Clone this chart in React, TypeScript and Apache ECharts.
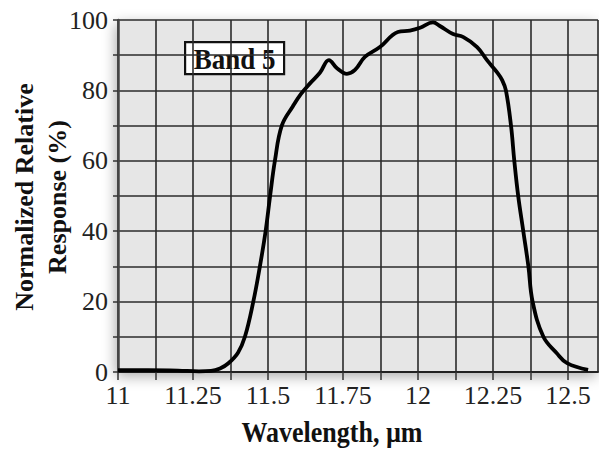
import React, { useEffect, useRef } from "react";
import * as echarts from "echarts";

// Band 5 spectral response curve: wavelength (µm) vs normalized response (%)
const wavelength = [
  11.0, 11.1, 11.2, 11.27, 11.31, 11.34, 11.368, 11.4, 11.423, 11.451, 11.473, 11.492,
  11.507, 11.523, 11.546, 11.583, 11.61, 11.64, 11.673, 11.703, 11.73, 11.763, 11.79, 11.823,
  11.873, 11.933, 11.973, 12.007, 12.05, 12.073, 12.117, 12.15, 12.197, 12.23, 12.265,
  12.28, 12.293, 12.31, 12.321, 12.334, 12.351, 12.368, 12.382, 12.418, 12.462, 12.497,
  12.567,
];
const response = [
  0.5, 0.5, 0.4, 0.2, 0.3, 1.0, 2.5, 5.5, 10, 20, 30, 40,
  50, 60, 70, 75.5, 79, 82, 85, 88.6, 86.3, 84.7, 85.8, 89.5,
  92.3, 96.6, 97, 97.8, 99.3, 98.3, 96, 95.2, 92.3, 88.6, 85,
  83, 80, 70, 60, 50, 40, 30, 20, 10, 5.4, 2.5,
  0.6,
];
const xTickLabels = ["11", "11.25", "11.5", "11.75", "12", "12.25", "12.5"];
const yTickLabels = ["0", "20", "40", "60", "80", "100"];
const bandLabel = "Band 5";
const xTitle = "Wavelength, \u00b5m";
const yTitle = "Normalized Relative\nResponse (%)";

const SERIF = "'Liberation Serif', 'DejaVu Serif', serif";

export default function App() {
  const ref = useRef<HTMLDivElement>(null);

  useEffect(() => {
    if (!ref.current) return;
    const chart = echarts.init(ref.current, null, { renderer: "svg" });
    const points = wavelength.map((w, i) => [w, response[i]]);
    const fmtX = (v: number) => {
      const hit = xTickLabels.find((t) => Math.abs(parseFloat(t) - v) < 1e-6);
      return hit ?? "";
    };
    const fmtY = (v: number) => {
      const hit = yTickLabels.find((t) => Math.abs(parseFloat(t) - v) < 1e-6);
      return hit ?? "";
    };
    chart.setOption({
      animation: false,
      backgroundColor: "#ffffff",
      grid: {
        left: 118,
        top: 20,
        width: 480,
        height: 352,
        show: true,
        backgroundColor: "#e6e6e6",
        borderWidth: 0,
        shadowBlur: 14,
        shadowColor: "rgba(0,0,0,0.35)",
        shadowOffsetY: 4,
        shadowOffsetX: -2,
      },
      xAxis: {
        type: "value",
        min: 11,
        max: 12.6,
        interval: 0.125,
        axisLine: { show: true, lineStyle: { color: "#222", width: 2 } },
        axisTick: { show: true, length: 8, lineStyle: { color: "#333", width: 1.5 } },
        splitLine: { show: true, lineStyle: { color: "#2b2b2b", width: 1.6 } },
        axisLabel: {
          formatter: fmtX,
          fontFamily: SERIF,
          fontSize: 26,
          color: "#222",
          margin: 10,
          showMaxLabel: false,
        },
      },
      yAxis: {
        type: "value",
        min: 0,
        max: 100,
        interval: 10,
        axisLine: { show: true, lineStyle: { color: "#444", width: 2.5 } },
        axisTick: { show: true, length: 5, lineStyle: { color: "#333", width: 1.5 } },
        splitLine: { show: true, lineStyle: { color: "#2b2b2b", width: 1.6 } },
        axisLabel: {
          formatter: fmtY,
          fontFamily: SERIF,
          fontSize: 26,
          color: "#222",
          margin: 10,
        },
      },
      series: [
        {
          type: "line",
          data: points,
          showSymbol: false,
          smooth: 0.4,
          lineStyle: { color: "#000", width: 3.8 },
          z: 5,
        },
      ],
      graphic: [
        {
          type: "group",
          left: 184,
          top: 41,
          z: 10,
          children: [
            {
              type: "rect",
              shape: { x: 0, y: 0, width: 99, height: 32 },
              style: { fill: "#fff", stroke: "#111", lineWidth: 2.2 },
            },
            {
              type: "text",
              x: 49.5,
              y: 17,
              scaleY: 1.1,
              style: {
                text: bandLabel,
                font: `bold 27px ${SERIF}`,
                fill: "#111",
                textAlign: "center",
                textVerticalAlign: "middle",
              },
            },
          ],
        },
        {
          type: "text",
          x: 332,
          y: 433,
          scaleY: 1.1,
          style: {
            text: xTitle,
            font: `bold 26px ${SERIF}`,
            fill: "#111",
            textAlign: "center",
            textVerticalAlign: "middle",
          },
        },
        {
          type: "text",
          x: 41,
          y: 197,
          rotation: Math.PI / 2,
          style: {
            text: yTitle,
            font: `bold 26px ${SERIF}`,
            fill: "#111",
            textAlign: "center",
            textVerticalAlign: "middle",
            lineHeight: 33,
          },
        },
      ],
    });
    return () => chart.dispose();
  }, []);

  return (
    <div
      ref={ref}
      style={{ position: "fixed", left: 0, top: 0, width: 599, height: 449 }}
    />
  );
}
